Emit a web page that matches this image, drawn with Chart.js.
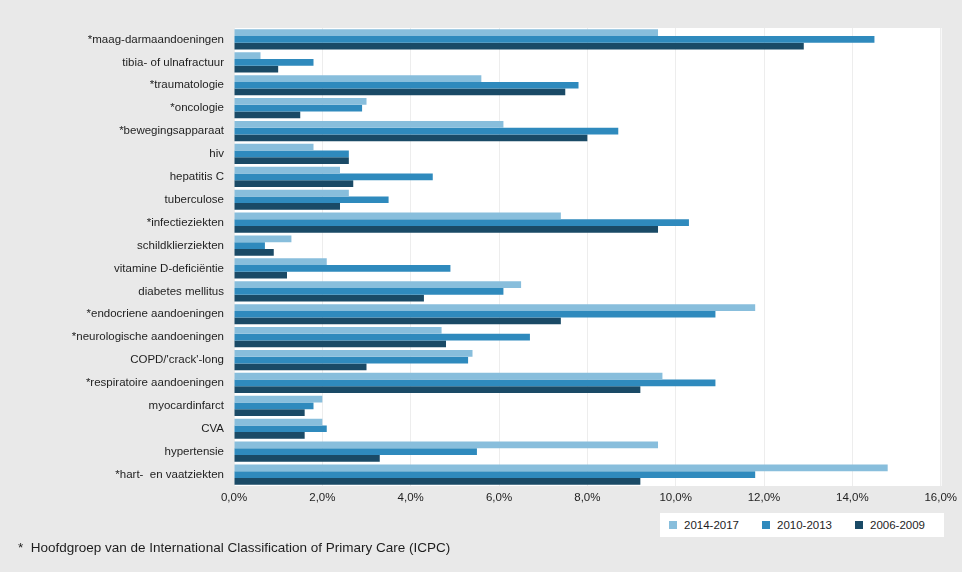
<!DOCTYPE html>
<html>
<head>
<meta charset="utf-8">
<script src="https://cdn.jsdelivr.net/npm/chart.js@4/dist/chart.umd.min.js"></script>
<style>
  html, body { margin: 0; padding: 0; background: #e9e9e9; }
  #wrap { position: relative; width: 962px; height: 572px; background: #e9e9e9; }
  #c { position: absolute; left: 0; top: 0; }
  .narrow { font-family: "Liberation Sans Narrow", "Liberation Sans", sans-serif; color: #1e1e1e; }
  #legend { position: absolute; left: 660px; top: 513px; width: 284px; height: 24px; background: #fff;
            display: flex; align-items: center; font-size: 11.5px; white-space: nowrap; }
  #legend span.item { display: inline-flex; align-items: center; margin-left: 9px; margin-right: 14px; white-space: nowrap; }
  #legend span.sw { display: inline-block; width: 8px; height: 8px; margin-right: 7px; }
  #note { position: absolute; left: 18px; top: 540px; font-size: 13.5px; white-space: pre; }
</style>
</head>
<body>
<div id="wrap">
  <canvas id="c" width="962" height="572"></canvas>
  <div id="legend" class="narrow"></div>
  <div id="note" class="narrow">*  Hoofdgroep van de International Classification of Primary Care (ICPC)</div>
</div>
<script>
// Aandoeningen (ICPC), van boven naar beneden
const categories = [
  "*maag-darmaandoeningen",
  "tibia- of ulnafractuur",
  "*traumatologie",
  "*oncologie",
  "*bewegingsapparaat",
  "hiv",
  "hepatitis C",
  "tuberculose",
  "*infectieziekten",
  "schildklierziekten",
  "vitamine D-deficiëntie",
  "diabetes mellitus",
  "*endocriene aandoeningen",
  "*neurologische aandoeningen",
  "COPD/'crack'-long",
  "*respiratoire aandoeningen",
  "myocardinfarct",
  "CVA",
  "hypertensie",
  "*hart-  en vaatziekten"
];

// Percentages per periode
const period2014_2017 = [9.6, 0.6, 5.6, 3.0, 6.1, 1.8, 2.4, 2.6, 7.4, 1.3, 2.1, 6.5, 11.8, 4.7, 5.4, 9.7, 2.0, 2.0, 9.6, 14.8];
const period2010_2013 = [14.5, 1.8, 7.8, 2.9, 8.7, 2.6, 4.5, 3.5, 10.3, 0.7, 4.9, 6.1, 10.9, 6.7, 5.3, 10.9, 1.8, 2.1, 5.5, 11.8];
const period2006_2009 = [12.9, 1.0, 7.5, 1.5, 8.0, 2.6, 2.7, 2.4, 9.6, 0.9, 1.2, 4.3, 7.4, 4.8, 3.0, 9.2, 1.6, 1.6, 3.3, 9.2];

const seriesLabels = ["2014-2017", "2010-2013", "2006-2009"];
const xTicks = [0, 2, 4, 6, 8, 10, 12, 14, 16];

const colors = ["#88bedc", "#2f8abd", "#1a4a66"];
const fontFamily = '"Liberation Sans Narrow", "Liberation Sans", sans-serif';

// White plotting area behind the bars
const plotBackground = {
  id: "plotBackground",
  beforeDraw(chart) {
    const { ctx, chartArea: a } = chart;
    ctx.save();
    ctx.fillStyle = "#ffffff";
    ctx.fillRect(a.left, a.top, a.right - a.left + 1, a.bottom - a.top);
    ctx.restore();
  }
};

const seriesData = [period2014_2017, period2010_2013, period2006_2009];

new Chart(document.getElementById("c"), {
  type: "bar",
  data: {
    labels: categories,
    datasets: seriesData.map((d, i) => ({
      label: seriesLabels[i],
      data: d,
      backgroundColor: colors[i],
      borderWidth: 0,
      barPercentage: 1.0,
      categoryPercentage: 0.88
    }))
  },
  options: {
    indexAxis: "y",
    responsive: false,
    animation: false,
    layout: { padding: { top: 28, right: 20, bottom: 62, left: 0 } },
    plugins: { legend: { display: false }, tooltip: { enabled: false } },
    scales: {
      x: {
        min: 0,
        max: 16,
        afterBuildTicks(scale) { scale.ticks = xTicks.map(v => ({ value: v })); },
        afterFit(scale) { scale.height = 24; },
        grid: { color: "rgba(0,0,0,0.07)", drawTicks: false },
        border: { display: false },
        ticks: {
          padding: 5,
          color: "#1e1e1e",
          font: { family: fontFamily, size: 11.5 },
          callback: v => v.toFixed(1).replace(".", ",") + "%"
        }
      },
      y: {
        afterFit(scale) { scale.width = 234; },
        grid: { display: false },
        border: { display: false },
        ticks: {
          padding: 2,
          color: "#1e1e1e",
          font: { family: fontFamily, size: 11.5 },
          autoSkip: false
        }
      }
    }
  },
  plugins: [plotBackground]
});

// Legend
const legend = document.getElementById("legend");
seriesLabels.forEach((lab, i) => {
  const item = document.createElement("span");
  item.className = "item";
  const sw = document.createElement("span");
  sw.className = "sw";
  sw.style.background = colors[i];
  item.appendChild(sw);
  item.appendChild(document.createTextNode(lab));
  legend.appendChild(item);
});
</script>
</body>
</html>
